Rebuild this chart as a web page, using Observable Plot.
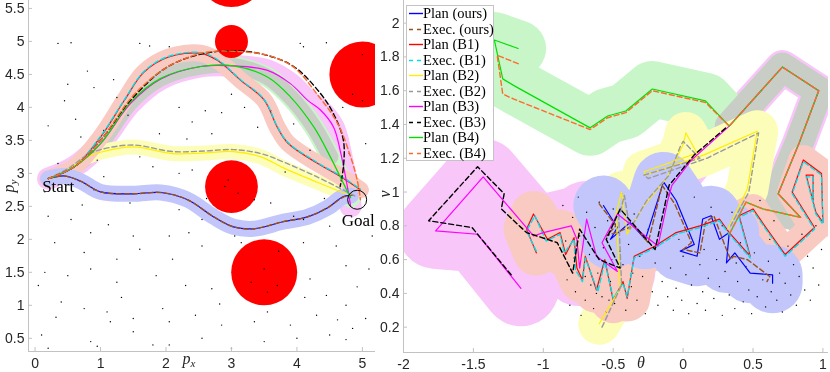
<!DOCTYPE html>
<html><head><meta charset="utf-8">
<script src="https://cdn.jsdelivr.net/npm/d3@7"></script>
<script src="https://cdn.jsdelivr.net/npm/@observablehq/plot@0.6"></script>
<style>
body{margin:0;background:#fff}
#wrap{position:relative;width:830px;height:372px;overflow:hidden;background:#fff}
#left{position:absolute;left:0;top:0}
#right{position:absolute;left:380px;top:0}
#legend{position:absolute;left:406px;top:5px;width:88px;height:156px;background:#fff;border:1px solid #c4c4c4;box-sizing:border-box}
.lg{position:absolute;left:0;height:15px;font-family:'Liberation Serif','Times New Roman',serif;font-size:14.5px;color:#000;white-space:pre;line-height:15px}
.lg svg{position:absolute;left:1px;top:0}
.lg span{position:absolute;left:16px;top:0}
</style>
</head><body>
<div id="wrap"><div id="left"></div><div id="right"></div><div id="legend"></div></div>
<script>
// ---------------- DATA ----------------
const xTicksL = [0, 1, 2, 3, 4, 5];
const yTicksL = [0.5, 1, 1.5, 2, 2.5, 3, 3.5, 4, 4.5, 5, 5.5];
const xTicksR = [-2, -1.5, -1, -0.5, 0, 0.5, 1];
const yTicksR = [0.2, 0.4, 0.6, 0.8, 1, 1.2, 1.4, 1.6, 1.8, 2];
const xDomL = [-0.1, 5.2], yDomL = [0.3, 5.62];
const xDomR = [-2, 1.04], yDomR = [0.05, 2.134];

const legendLabels = ["Plan (ours)", "Exec. (ours)", "Plan (B1)", "Exec. (B1)", "Plan (B2)", "Exec. (B2)", "Plan (B3)", "Exec. (B3)", "Plan (B4)", "Exec. (B4)"];

// obstacles (left): centre x, centre y, radius
const obsX = [3, 3, 3, 3.5, 5];
const obsY = [6.02, 5.0, 2.8, 1.5, 4.5];
const obsR = [0.5, 0.25, 0.4, 0.5, 0.5];
const startPt = [0.2, 2.92];
const goalPt = [4.92, 2.6];

// left panel trajectories (p_x, p_y)
const leftPlanOurs = [[0.2,2.92],[0.45,2.96],[0.7,2.88],[1.0,2.72],[1.5,2.69],[1.92,2.71],[2.33,2.6],[2.73,2.34],[3.03,2.19],[3.34,2.16],[3.8,2.27],[4.16,2.34],[4.47,2.48],[4.71,2.65],[4.82,2.66]];
const leftExecOurs = [[0.2,2.92],[0.45,2.96],[0.7,2.88],[1.0,2.72],[1.5,2.69],[1.92,2.71],[2.33,2.6],[2.73,2.34],[3.03,2.19],[3.34,2.16],[3.8,2.27],[4.16,2.34],[4.47,2.48],[4.71,2.64],[4.85,2.67]];
const leftPlanB1 = [[0.2,2.92],[0.6,3.1],[1.0,3.55],[1.36,4.1],[1.66,4.53],[2.03,4.76],[2.53,4.82],[2.79,4.71],[3.14,4.41],[3.5,4.11],[3.7,3.7],[3.86,3.46],[4.3,3.16],[4.67,2.95],[4.97,2.75]];
const leftExecB1 = [[0.2,2.92],[0.6,3.1],[1.0,3.56],[1.36,4.11],[1.66,4.54],[2.03,4.77],[2.53,4.83],[2.79,4.72],[3.14,4.42],[3.5,4.12],[3.7,3.71],[3.86,3.47],[4.3,3.17],[4.67,2.96],[4.97,2.76]];
const leftPlanB2 = [[0.2,2.92],[0.5,3.05],[0.8,3.25],[1.0,3.32],[1.5,3.4],[2.1,3.3],[2.6,3.31],[3.03,3.33],[3.45,3.25],[3.8,3.08],[4.3,2.87],[4.77,2.68]];
const leftExecB2 = [[0.2,2.92],[0.5,3.07],[0.8,3.28],[1.0,3.36],[1.5,3.43],[2.1,3.33],[2.6,3.34],[3.03,3.36],[3.45,3.3],[3.8,3.17],[4.3,2.95],[4.9,2.65]];
const leftPlanB3 = [[0.2,2.92],[0.6,3.1],[1.0,3.45],[1.46,4.06],[1.92,4.43],[2.53,4.62],[3.03,4.63],[3.55,4.56],[3.9,4.36],[4.16,4.11],[4.36,3.96],[4.56,3.7],[4.66,3.35],[4.77,2.8],[4.82,2.5]];
const leftExecB3 = [[0.2,2.92],[0.6,3.1],[1.0,3.5],[1.5,4.15],[2.0,4.6],[2.5,4.8],[3.03,4.86],[3.5,4.8],[3.95,4.62],[4.36,4.21],[4.56,3.9],[4.71,3.5],[4.71,3.1],[4.66,2.8]];
const leftPlanB4 = [[0.2,2.92],[0.6,3.1],[1.0,3.45],[1.46,4.08],[1.92,4.44],[2.53,4.62],[3.03,4.63],[3.55,4.46],[3.9,4.16],[4.26,3.7],[4.51,3.25],[4.66,2.95],[4.82,2.63]];
const leftExecB4 = [[0.2,2.92],[0.6,3.1],[1.0,3.5],[1.5,4.18],[2.0,4.6],[2.4,4.78],[2.64,4.84],[3.03,4.85],[3.55,4.79],[3.95,4.61],[4.3,4.21],[4.62,3.76],[4.82,3.25],[4.92,2.9],[4.97,2.6]];

const leftDots = [[0.35,4.97],[0.55,4.98],[1.6,4.97],[1.75,4.93],[2.05,4.92],[4.05,4.97],[4.45,4.98],[0.8,4.55],[0.9,4.3],[0.5,4.35],[1.2,4.42],[1.25,4.15],[0.45,4.1],[2.2,4.0],[2.6,3.95],[2.85,3.92],[3.4,3.7],[2.4,3.78],[1.9,3.6],[3.95,3.75],[4.7,4.0],[4.1,4.92],[1.05,3.65],[0.2,3.72],[0.7,3.55],[0.35,3.15],[1.8,3.1],[2.4,3.05],[2.2,3.0],[1.05,2.95],[0.9,2.75],[0.15,2.72],[1.45,2.55],[2.2,2.45],[2.55,2.3],[3.6,2.55],[3.35,2.6],[3.95,2.35],[4.1,2.3],[4.5,2.2],[5.15,2.05],[0.2,2.35],[0.55,2.3],[0.85,2.1],[1.5,2.05],[2.05,2.05],[2.35,2.1],[1.6,1.85],[0.3,1.95],[0.75,1.8],[1.25,1.7],[2.1,1.7],[2.55,1.9],[4.1,1.95],[4.6,1.9],[4.75,1.6],[5.1,1.55],[4.2,1.4],[0.05,1.3],[0.15,1.5],[0.5,1.45],[0.85,1.55],[1.25,1.35],[1.85,1.45],[2.3,1.3],[2.7,1.25],[4.45,1.15],[4.75,1.0],[0.4,1.05],[0.75,0.95],[1.1,0.9],[1.15,0.75],[1.5,0.8],[1.95,0.95],[2.05,0.75],[2.45,0.85],[2.85,0.7],[3.35,0.75],[3.55,0.9],[3.9,0.7],[4.3,0.85],[4.85,0.65],[5.05,0.8],[0.1,0.55],[0.85,0.45],[0.95,0.38],[1.5,0.6],[2.05,0.4],[2.55,0.5],[3.0,0.35],[3.5,0.45],[4.0,0.5],[4.5,0.55],[4.75,0.48],[1.8,0.4],[0.2,0.35],[3.15,1.95],[3.05,2.05],[2.9,2.8],[3.1,2.7],[2.95,2.9],[3.5,1.55],[3.55,1.2],[3.3,1.35],[3.7,1.3],[5.0,4.1],[5.0,4.8],[4.85,4.2],[0.95,3.2],[1.6,3.25],[2.7,3.6],[3.2,4.0],[3.0,4.2],[3.6,3.95],[4.2,3.35],[4.8,3.3],[5.05,3.45],[0.62,3.82],[1.42,3.88],[2.32,3.52],[3.82,3.02],[4.42,2.62],[0.72,2.52],[1.12,2.22],[2.62,2.62],[3.72,1.82],[4.92,1.28],[0.32,0.82],[1.32,1.12],[2.82,1.02],[4.12,1.12],[4.62,0.78]];

// right panel trajectories (theta, v)
const rightPlanOurs = [[-0.57,0.92],[-0.47,0.79],[-0.52,0.72],[-0.38,0.82],[-0.27,0.72],[-0.14,1.06],[-0.05,0.95],[0.08,0.69],[-0.02,0.65],[0.1,0.62],[0.14,0.84],[0.2,0.86],[0.26,0.72],[0.33,0.76],[0.31,0.58],[0.37,0.64],[0.48,0.52],[0.64,0.51],[0.64,0.46]];
const rightExecOurs = [[-0.6,0.93],[-0.48,0.8],[-0.55,0.74],[-0.35,0.8],[-0.25,0.7],[-0.15,1.04],[-0.06,0.93],[0.06,0.7],[0.0,0.66],[0.12,0.64],[0.16,0.82],[0.22,0.86],[0.3,0.68],[0.34,0.6],[0.36,0.62],[0.46,0.6],[0.62,0.5],[0.6,0.47]];
const rightPlanB1 = [[-1.05,0.64],[-1.12,0.78],[-1.07,0.87],[-0.97,0.72],[-0.88,0.76],[-0.84,0.63],[-0.78,0.73],[-0.76,0.55],[-0.72,0.48],[-0.7,0.62],[-0.62,0.42],[-0.56,0.6],[-0.5,0.36],[-0.43,0.47],[-0.4,0.37],[-0.35,0.62],[-0.2,0.68],[-0.05,0.76],[0.12,0.8],[0.26,0.84],[0.33,0.76],[0.48,0.62],[0.4,0.86],[0.5,0.9],[0.6,0.78],[0.73,0.63],[0.94,0.79],[0.78,1.0],[0.86,1.19],[0.99,1.11],[1.0,0.82],[0.95,0.88],[0.88,1.1],[0.93,1.1],[0.93,0.95]];
const rightExecB1 = [[-1.05,0.65],[-1.12,0.77],[-1.06,0.86],[-0.98,0.71],[-0.88,0.75],[-0.85,0.64],[-0.78,0.72],[-0.77,0.54],[-0.72,0.47],[-0.7,0.61],[-0.61,0.41],[-0.56,0.59],[-0.5,0.37],[-0.43,0.46],[-0.4,0.38],[-0.35,0.61],[-0.2,0.67],[-0.05,0.75],[0.12,0.79],[0.26,0.83],[0.33,0.75],[0.48,0.61],[0.4,0.85],[0.5,0.89],[0.6,0.77],[0.73,0.62],[0.94,0.78],[0.78,0.99],[0.86,1.18],[0.99,1.1],[1.0,0.81],[0.95,0.87],[0.88,1.09],[0.93,1.09],[0.93,0.94]];
const rightPlanB2 = [[-0.6,0.22],[-0.45,0.43],[-0.48,0.87],[-0.44,1.0],[-0.4,0.75],[-0.28,0.92],[-0.12,1.08],[0.0,1.28],[0.02,1.35],[0.1,1.23],[-0.28,1.12],[-0.27,1.1],[0.15,1.22],[0.53,1.36],[0.46,1.02],[0.32,0.78]];
const rightExecB2 = [[-0.58,0.2],[-0.44,0.45],[-0.46,0.85],[-0.42,0.98],[-0.38,0.78],[-0.26,0.95],[-0.1,1.1],[-0.02,1.27],[0.0,1.3],[0.12,1.2],[-0.28,1.1],[-0.25,1.08],[0.17,1.2],[0.54,1.35],[0.47,1.0],[0.34,0.8]];
const rightPlanB3 = [[-1.16,0.43],[-1.47,0.75],[-1.77,0.77],[-1.43,1.09],[-1.07,0.74],[-1.0,0.76],[-0.8,0.8],[-0.76,0.72],[-0.74,0.55],[-0.69,0.84],[-0.62,0.62],[-0.47,0.53],[-0.58,0.7],[-0.47,0.87],[-0.18,0.68],[-0.11,0.95],[-0.08,1.04],[0.06,1.19],[0.33,1.39],[0.71,1.74],[0.97,1.6],[0.83,1.29],[0.68,0.99],[0.84,0.85]];
const rightExecB3 = [[-1.23,0.51],[-1.51,0.79],[-1.82,0.83],[-1.47,1.15],[-1.28,0.99],[-1.3,0.9],[-1.12,0.76],[-0.9,0.7],[-0.79,0.52],[-0.74,0.78],[-0.6,0.6],[-0.45,0.55],[-0.55,0.72],[-0.45,0.9],[-0.2,0.66],[-0.1,1.04],[0.08,1.22],[0.32,1.39]];
const rightPlanB4 = [[-1.18,1.85],[-1.35,1.9],[-1.29,1.67],[-1.21,1.63],[-0.665,1.38],[-0.54,1.45],[-0.41,1.48],[-0.22,1.61],[0.16,1.54],[0.33,1.39],[0.71,1.74],[0.97,1.6],[0.83,1.29],[0.68,0.99],[0.84,0.85],[0.57,0.9],[0.45,0.94],[0.33,0.75]];
const rightExecB4 = [[-1.18,1.76],[-1.33,1.81],[-1.29,1.58],[-1.21,1.55],[-0.665,1.37],[-0.54,1.44],[-0.41,1.47],[-0.22,1.6],[0.16,1.53],[0.33,1.39],[0.71,1.74],[0.97,1.6],[0.83,1.29],[0.68,0.99],[0.84,0.85],[0.57,0.9],[0.45,0.94],[0.33,0.75]];

const rightDots = [[-0.86,0.92],[-0.84,0.71],[-0.83,0.48],[-0.81,0.33],[-0.79,0.85],[-0.78,0.61],[-0.77,0.41],[-0.75,0.97],[-0.74,0.74],[-0.73,0.27],[-0.71,0.55],[-0.7,0.36],[-0.69,0.88],[-0.67,0.63],[-0.66,0.45],[-0.64,0.31],[-0.63,0.79],[-0.61,0.52],[-0.6,0.94],[-0.58,0.38],[-0.57,0.67],[-0.55,0.29],[-0.54,0.83],[-0.52,0.47],[-0.51,0.6],[-0.49,0.34],[-0.47,0.76],[-0.46,0.42],[-0.44,0.99],[-0.43,0.57],[-0.41,0.3],[-0.39,0.69],[-0.37,0.44],[-0.35,0.87],[-0.33,0.36],[-0.31,0.62],[-0.29,0.5],[-0.27,0.28],[-0.25,0.78],[-0.22,0.41],[-0.2,0.58],[-0.18,0.33],[-0.15,0.47],[-0.13,0.92],[-0.11,0.38],[-0.09,0.55],[-0.07,0.3],[-0.05,0.43],[-0.03,0.72],[-0.01,0.36],[0.02,0.51],[0.04,0.28],[0.06,0.45],[0.08,0.97],[0.1,0.34],[0.12,0.57],[0.14,0.41],[0.16,0.3],[0.18,0.49],[0.2,0.91],[0.22,0.37],[0.24,0.6],[0.26,0.44],[0.28,0.27],[0.3,0.53],[0.33,0.39],[0.35,0.88],[0.37,0.31],[0.39,0.47],[0.41,0.7],[0.43,0.35],[0.45,0.56],[0.47,0.42],[0.49,0.28],[0.51,0.64],[0.53,0.38],[0.55,0.95],[0.57,0.48],[0.59,0.32],[0.61,0.59],[0.63,0.41],[0.65,0.83],[0.67,0.36],[0.69,0.52],[0.71,0.29],[0.73,0.46],[0.75,0.68],[0.77,0.39],[0.79,0.57],[0.81,0.33],[0.83,0.5],[0.85,0.75],[0.87,0.42],[0.89,0.62],[0.91,0.36],[0.93,0.55],[0.95,0.8],[0.97,0.45],[0.99,0.66],[-0.62,0.4],[-0.53,0.36],[-0.45,0.65],[-0.36,0.52],[0.0,0.62],[0.15,0.66],[0.38,0.58],[0.62,0.72],[-0.7,0.5],[-0.5,0.9],[0.28,0.8]];

// ---------------- STYLE ----------------
const C = {ours: "#0000ff", oursE: "#9a5216", b1: "#ff0000", b1E: "#00e0ea", b2: "#ffee00", b2E: "#9a9a9a",
           b3: "#ff00ff", b3E: "#000000", b4: "#00e000", b4E: "#ff6a2a"};
const legendColors = [C.ours, C.oursE, C.b1, C.b1E, C.b2, C.b2E, C.b3, C.b3E, C.b4, C.b4E];
const legendDashed = [false, true, false, true, false, true, false, true, false, true];
const B = {ours: "#c2c6fa", b1: "#f9cac2", b2: "#fdfdba", b3: "#f8c6f8", b4: "#c8f6c8", mix: "#c8cdc6"};
const axisGray = "#c2c2c2";
const X = d => d[0], Y = d => d[1];
const serif = "'Liberation Serif','Times New Roman',serif";

function band(data, color, w, curve = "linear", blend = "multiply") {
  return Plot.line(data, {x: X, y: Y, stroke: color, strokeWidth: w, strokeLinecap: "round", strokeLinejoin: "round", mixBlendMode: blend, curve, clip: true});
}
function path(data, color, dashed, curve = "linear") {
  return Plot.line(data, {x: X, y: Y, stroke: color, strokeWidth: dashed ? 1.4 : 1.2, strokeDasharray: dashed ? "5,3" : null, curve, clip: true});
}
function axes(xTicks, yTicks, xDom, yDom, plotW, plotH) {
  return [
    Plot.ruleX([xDom[0]], {stroke: axisGray}),
    Plot.ruleY([yDom[0]], {stroke: axisGray}),
    Plot.tickX(xTicks, {x: d => d, stroke: axisGray, insetTop: plotH - 4}),
    Plot.tickY(yTicks, {y: d => d, stroke: axisGray, insetRight: plotW - 4}),
    Plot.axisX({ticks: xTicks, tickSize: 0, tickPadding: 7, tickFormat: d => String(d), label: null}),
    Plot.axisY({ticks: yTicks, tickSize: 0, tickPadding: 4, tickFormat: d => String(d), label: null})
  ];
}
const H = 372;
const styleObj = {fontFamily: "'Liberation Sans',Arial,sans-serif", fontSize: "14px", color: "#262626", background: "transparent", overflow: "visible"};

// ---------------- LEFT ----------------
const obstacles = obsX.map((x, i) => ({x, y: obsY[i], r: obsR[i]}));
const cr = "catmull-rom";
const left = Plot.plot({
  width: 380, height: H, marginLeft: 28, marginRight: 5, marginTop: 0, marginBottom: 21,
  style: styleObj,
  x: {domain: xDomL}, y: {domain: yDomL},
  r: {type: "linear", domain: [0, 1], range: [0, 66]},
  marks: [
    band(leftPlanB3, B.b3, 22, cr),
    band(leftPlanB4.slice(6), B.b4, 20, cr),
    band(leftPlanB4.slice(0, 11), B.mix, 16, cr, "normal"),
    band(leftPlanB2, B.b2, 15, cr),
    band(leftPlanB1, B.b1, 17, cr),
    band(leftPlanOurs, B.ours, 16, cr),
    Plot.dot(obstacles, {x: "x", y: "y", r: "r", fill: "#ff0000", stroke: null, clip: true}),
    Plot.dot(leftDots, {x: X, y: Y, r: 0.7, fill: "#000", stroke: null}),
    ...axes(xTicksL, yTicksL, xDomL, yDomL, 347, 351),
    path(leftPlanOurs, C.ours, false, cr), path(leftExecOurs, C.oursE, true, cr),
    path(leftPlanB1, C.b1, false, cr), path(leftExecB1, C.b1E, true, cr),
    path(leftPlanB2, C.b2, false, cr), path(leftExecB2, C.b2E, true, cr),
    path(leftPlanB3, C.b3, false, cr), path(leftExecB3, C.b3E, true, cr),
    path(leftPlanB4, C.b4, false, cr), path(leftExecB4, C.b4E, true, cr),
    Plot.dot([goalPt], {x: X, y: Y, r: 9.5, stroke: "#000", strokeWidth: 1, fill: "none"}),
    Plot.text([startPt], {x: X, y: Y, text: () => "Start", textAnchor: "start", dx: -6, dy: 8, fontFamily: serif, fontSize: 17, fill: "#000"}),
    Plot.text([goalPt], {x: X, y: Y, text: () => "Goal", textAnchor: "middle", dx: 1, dy: 21, fontFamily: serif, fontSize: 17, fill: "#000"})
  ]
});
document.getElementById("left").appendChild(left);

// ---------------- RIGHT ----------------
const right = Plot.plot({
  width: 450, height: H, marginLeft: 23, marginRight: 2, marginTop: 0, marginBottom: 20,
  style: styleObj,
  x: {domain: xDomR}, y: {domain: yDomR},
  marks: [
    band(rightPlanB3.slice(0, 14), B.b3, 76),
    band(rightPlanB3.slice(13, 19), B.b3, 44),
    band(rightPlanB3.slice(18), B.b3, 34),
    band(rightPlanB4.slice(0, 10), B.b4, 56),
    band(rightPlanB4.slice(9), B.mix, 29, "linear", "normal"),
    band(rightPlanB2, B.b2, 42),
    band(rightPlanB1.slice(0, 21), B.b1, 46),
    band(rightPlanB1.slice(20), B.b1, 30),
    band(rightPlanOurs, B.ours, 60),
    Plot.dot(rightDots, {x: X, y: Y, r: 0.7, fill: "#000", stroke: null}),
    ...axes(xTicksR, yTicksR, xDomR, yDomR, 425, 352),
    path(rightPlanOurs, C.ours, false), path(rightExecOurs, C.oursE, true),
    path(rightPlanB1, C.b1, false), path(rightExecB1, C.b1E, true),
    path(rightPlanB2, C.b2, false), path(rightExecB2, C.b2E, true),
    path(rightPlanB3, C.b3, false), path(rightExecB3, C.b3E, true),
    path(rightPlanB4, C.b4, false), path(rightExecB4, C.b4E, true)
  ]
});
document.getElementById("right").appendChild(right);

// ---------------- AXIS TITLES ----------------
function label(svg, tx, ty, rot, main, sub) {
  const t = d3.select(svg).append("text")
    .attr("transform", `translate(${tx},${ty}) rotate(${rot})`)
    .attr("font-family", serif).attr("font-style", "italic").attr("font-size", 16).attr("fill", "#262626");
  t.append("tspan").text(main);
  if (sub) t.append("tspan").attr("font-size", 11).attr("dy", 3).text(sub);
}
label(left, 14, 186, -90, "p", "y");
label(left, 189, 364, 0, "p", "x");
label(right, 261, 368, 0, "θ", null);
label(right, 10, 194, -90, "v", null);

// ---------------- LEGEND ----------------
const lg = document.getElementById("legend");
legendLabels.forEach((txt, i) => {
  const row = document.createElement("div");
  row.className = "lg";
  row.style.top = (i * 15.5) + "px";
  row.innerHTML = `<svg width="15" height="15"><line x1="1" x2="15" y1="7.5" y2="7.5" stroke="${legendColors[i]}" stroke-width="1.4" ${legendDashed[i] ? 'stroke-dasharray="4,4"' : ''}/></svg><span>${txt}</span>`;
  lg.appendChild(row);
});
</script>
</body></html>
